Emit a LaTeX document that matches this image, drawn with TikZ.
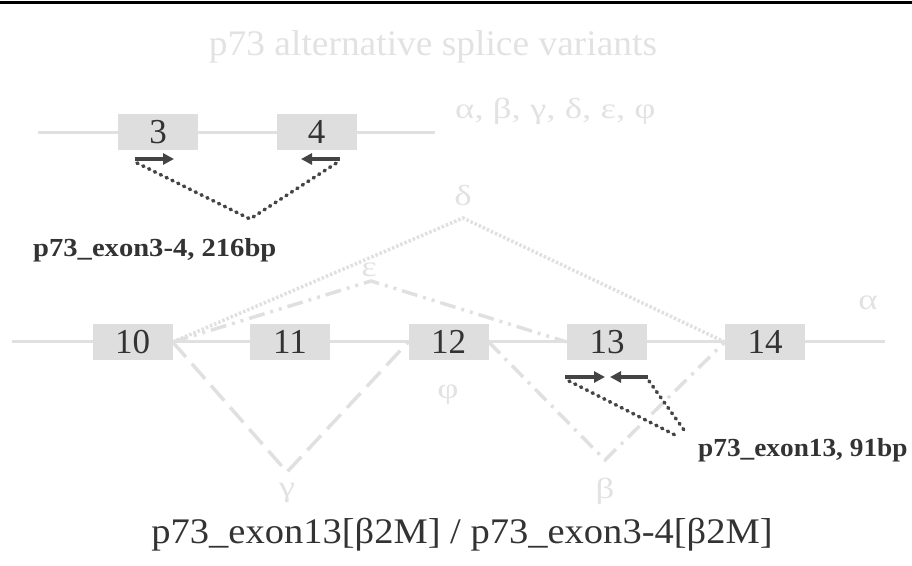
\documentclass[tikz,border=0pt]{standalone}
\usepackage{fontspec}
\usepackage{graphicx}
\setmainfont{Liberation Serif}
\usetikzlibrary{arrows.meta,backgrounds}

\definecolor{pale}{HTML}{E0E0E0}
\definecolor{palebox}{HTML}{DEDEDE}
\definecolor{paletext}{HTML}{E2E2E2}
\definecolor{ink}{HTML}{333333}
\definecolor{primer}{HTML}{444444}

% horizontal stretch of the slide text
\newcommand{\widetext}[2][1.27]{\scalebox{#1}[1]{#2}}

\begin{document}
\begin{tikzpicture}[x=1pt,y=-1pt,
  exon/.style={fill=palebox, draw=none, minimum width=80pt, minimum height=36pt,
    inner sep=0pt, text=ink, font=\fontsize{35}{38}\selectfont},
  intron/.style={draw=pale, line width=3pt},
  primer/.style={draw=primer, line width=3.5pt, -{Triangle[length=11pt,width=11pt]}},
  amplicon/.style={draw=primer, line width=3.6pt, line cap=round, dash pattern=on 1.2pt off 5.3pt},
  splice/.style={draw=pale, line width=3.5pt},
  greek/.style={text=paletext, font=\fontsize{29}{33}\selectfont, inner sep=0pt},
  biglabel/.style={font=\fontsize{36}{40}\selectfont, inner sep=0pt},
  amplabel/.style={text=ink, font=\fontsize{26}{30}\selectfont\bfseries, inner sep=0pt}
]
\useasboundingbox (0,0) rectangle (912,565);
\draw[line width=3pt] (0,2) -- (912,2);

% heading and list of variants
\node[biglabel, text=paletext, anchor=base] (title) at (433,55)
  {\widetext[1.04]{p73 alternative splice variants}};
\node[greek, anchor=base west] (variants) at (455,118)
  {\widetext{α, β, γ, δ, ε, φ}};

% exons 3 and 4 with the exon3-4 primer pair
\coordinate (a0) at (38,132);
\coordinate (a1) at (435,132);
\draw[intron] (a0) -- (a1);
\node[exon] (e3) at (158,132) {3};
\node[exon] (e4) at (316.5,132) {4};

\coordinate (f3s) at (135,159);
\coordinate (f3e) at (174,159);
\coordinate (r4s) at (340,159);
\coordinate (r4e) at (301,159);
\draw[primer] (f3s) -- (f3e);
\draw[primer] (r4s) -- (r4e);
\coordinate (d3) at (137,163);
\coordinate (d4) at (338,162);
\coordinate (v34) at (250,219);
\draw[amplicon] (d3) -- (v34) -- (d4);
\node[amplabel, anchor=base west] (l34) at (33,256) {\widetext[1.1]{p73\_exon3-4, 216bp}};

% exons 10 to 14
\coordinate (m0) at (12,341.5);
\coordinate (m1) at (885,341.5);
\draw[intron] (m0) -- (m1);
\node[exon] (e10) at (132.5,342) {10};
\node[exon] (e11) at (290,342) {11};
\node[exon] (e12) at (448.5,342) {12};
\node[exon] (e13) at (607,342) {13};
\node[exon] (e14) at (765,342) {14};

% splice paths of the variants
\coordinate (pd) at (463,218);
\coordinate (pe) at (371,281);
\coordinate (pg) at (287,472);
\coordinate (pb) at (605,460);
\begin{scope}[on background layer]
  \draw[splice, dash pattern=on 2.5pt off 2pt] (e10.east) -- (pd) -- (e14.west);
  \draw[splice, dash pattern=on 16pt off 6pt on 3pt off 6pt on 3pt off 6pt]
    (e10.east) -- (pe) -- (e13.west);
  \draw[splice, dash pattern=on 20pt off 9pt] (e10.east) -- (pg) -- (e12.west);
  \draw[splice, dash pattern=on 16pt off 7pt on 3pt off 7pt] (e12.east) -- (pb) -- (e14.west);
\end{scope}

\node[greek] (lalpha) at (868,303) {\widetext{α}};
\node[greek] (ldelta) at (463,196) {\widetext{δ}};
\node[greek] (leps) at (369,270) {\widetext{ε}};
\node[greek] (lphi) at (448,395) {\widetext{φ}};
\node[greek] (lgamma) at (287,493) {\widetext{γ}};
\node[greek] (lbeta) at (605,491) {\widetext{β}};

% exon 13 primer pair
\coordinate (f13s) at (565,377);
\coordinate (f13e) at (605,377);
\coordinate (r13s) at (648,377);
\coordinate (r13e) at (610,377);
\draw[primer] (f13s) -- (f13e);
\draw[primer] (r13s) -- (r13e);
\coordinate (d13a) at (569,381);
\coordinate (d13b) at (649,381);
\coordinate (c13a) at (679,437);
\coordinate (c13b) at (684,430);
\draw[amplicon] (d13a) -- (c13a);
\draw[amplicon] (d13b) -- (c13b);
\node[amplabel, anchor=base west] (l13) at (698,456) {\widetext[1.05]{p73\_exon13, 91bp}};

% assay ratio
\node[biglabel, text=ink, anchor=base] (ratio) at (462,543)
  {\widetext[1.07]{p73\_exon13[β2M] / p73\_exon3-4[β2M]}};
\end{tikzpicture}
\end{document}
